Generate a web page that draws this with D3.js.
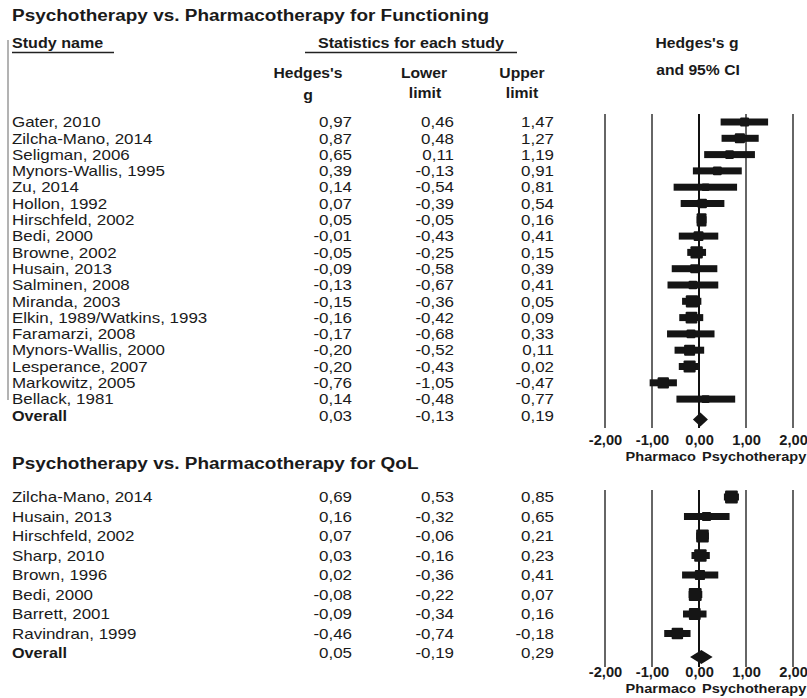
<!DOCTYPE html>
<html>
<head>
<meta charset="utf-8">
<script src="https://cdn.jsdelivr.net/npm/d3@7"></script>
<style>
  body { margin: 0; background: #fff; }
  text { font-family: "Liberation Sans", Arial, sans-serif; fill: #1a1a1a; }
</style>
</head>
<body>
<div id="vis-forest"></div>
<script>
// study rows, functioning
const funcStudies = ["Gater, 2010", "Zilcha-Mano, 2014", "Seligman, 2006", "Mynors-Wallis, 1995", "Zu, 2014",
    "Hollon, 1992", "Hirschfeld, 2002", "Bedi, 2000", "Browne, 2002", "Husain, 2013", "Salminen, 2008",
    "Miranda, 2003", "Elkin, 1989/Watkins, 1993", "Faramarzi, 2008", "Mynors-Wallis, 2000",
    "Lesperance, 2007", "Markowitz, 2005", "Bellack, 1981"]
const funcG = [0.97, 0.87, 0.65, 0.39, 0.14, 0.07, 0.05, -0.01, -0.05, -0.09, -0.13, -0.15, -0.16, -0.17, -0.20, -0.20, -0.76, 0.14]
const funcLower = [0.46, 0.48, 0.11, -0.13, -0.54, -0.39, -0.05, -0.43, -0.25, -0.58, -0.67, -0.36, -0.42, -0.68, -0.52, -0.43, -1.05, -0.48]
const funcUpper = [1.47, 1.27, 1.19, 0.91, 0.81, 0.54, 0.16, 0.41, 0.15, 0.39, 0.41, 0.05, 0.09, 0.33, 0.11, 0.02, -0.47, 0.77]
const funcOverall = [0.03, -0.13, 0.19]

// study rows, quality of life
const qolStudies = ["Zilcha-Mano, 2014", "Husain, 2013", "Hirschfeld, 2002", "Sharp, 2010", "Brown, 1996",
    "Bedi, 2000", "Barrett, 2001", "Ravindran, 1999"]
const qolG = [0.69, 0.16, 0.07, 0.03, 0.02, -0.08, -0.09, -0.46]
const qolLower = [0.53, -0.32, -0.06, -0.16, -0.36, -0.22, -0.34, -0.74]
const qolUpper = [0.85, 0.65, 0.21, 0.23, 0.41, 0.07, 0.16, -0.18]
const qolOverall = [0.05, -0.19, 0.29]

const tickValues = [-2, -1, 0, 1, 2]
const leftLabel = "Pharmaco"
const rightLabel = "Psychotherapy";

(function() {
    const width = 807
    const height = 698
    const SX = 1.13 // the original text is a bit wide

    const svg = d3.select("#vis-forest")
        .append("svg")
        .attr("width", width)
        .attr("height", height)

    const locale = d3.formatLocale({decimal: ",", thousands: ".", grouping: [3], currency: ["", ""], minus: "-"})
    const fmt = locale.format(".2f")

    const x = d3.scaleLinear().domain([-2, 2]).range([605, 793])

    // box size from random effects weight
    const tau2 = 0.05
    const weight = (lo, hi) => { const se = (hi - lo) / 3.92; return 1 / (se * se + tau2) }
    const boxSize = d3.scaleSqrt().domain([0, 20]).range([0, 13.6])

    // stretched text helper
    function label(s, px, py, opt) {
        opt = opt || {}
        return svg.append("text")
            .attr("transform", `translate(${px},${py}) scale(${opt.sx || SX},1)`)
            .attr("dy", "0.35em")
            .attr("text-anchor", opt.anchor || "start")
            .style("font-size", (opt.size || 15) + "px")
            .style("font-weight", opt.bold ? "bold" : "normal")
            .text(s)
    }

    // left gray frame line
    svg.append("line")
        .attr("x1", 8).attr("x2", 8).attr("y1", 40).attr("y2", 400)
        .attr("stroke", "#9a9a9a").attr("stroke-width", 1.5)

    // headers
    label("Psychotherapy vs. Pharmacotherapy for Functioning", 12, 15, {bold: true, size: 17, sx: 1.115})
    label("Study name", 12, 43, {bold: true, size: 14, sx: 1.15})
    svg.append("line").attr("x1", 12).attr("x2", 114).attr("y1", 52.5).attr("y2", 52.5)
        .attr("stroke", "#222").attr("stroke-width", 1.5)
    label("Statistics for each study", 411, 43, {bold: true, size: 14, anchor: "middle", sx: 1.15})
    svg.append("line").attr("x1", 305).attr("x2", 517).attr("y1", 52.5).attr("y2", 52.5)
        .attr("stroke", "#222").attr("stroke-width", 1.5)
    label("Hedges's", 308, 73, {bold: true, size: 14, anchor: "middle", sx: 1.12})
    label("g", 308, 95, {bold: true, size: 14, anchor: "middle"})
    label("Lower", 424, 73, {bold: true, size: 14, anchor: "middle", sx: 1.12})
    label("limit", 425, 93, {bold: true, size: 14, anchor: "middle"})
    label("Upper", 522, 73, {bold: true, size: 14, anchor: "middle", sx: 1.12})
    label("limit", 522, 93, {bold: true, size: 14, anchor: "middle"})
    label("Hedges's g", 697, 43, {bold: true, size: 14, anchor: "middle", sx: 1.12})
    label("and 95% CI", 698, 70, {bold: true, size: 14, anchor: "middle", sx: 1.12})

    function panel(names, g, lower, upper, overall, opt) {
        const rows = names.map((n, i) => ({name: n, g: g[i], lo: lower[i], hi: upper[i]}))
        const y = d3.scaleLinear().domain([0, rows.length]).range([opt.y0, opt.y0 + opt.step * rows.length])

        if (opt.title) label(opt.title, 12, opt.titleY, {bold: true, size: 17, sx: 1.115})

        // text columns
        rows.concat([{name: "Overall", g: overall[0], lo: overall[1], hi: overall[2], total: true}])
            .forEach((d, i) => {
                label(d.name, 12, y(i), {bold: !!d.total, size: 15, sx: d.total ? 1.08 : SX})
                label(fmt(d.g), 352, y(i), {anchor: "end"})
                label(fmt(d.lo), 454, y(i), {anchor: "end"})
                label(fmt(d.hi), 554, y(i), {anchor: "end"})
            })

        // grid lines
        svg.append("g").selectAll("line")
            .data(tickValues)
            .join("line")
            .attr("x1", d => x(d)).attr("x2", d => x(d))
            .attr("y1", opt.lineTop).attr("y2", opt.lineBottom)
            .attr("stroke", d => d === 0 ? "#111" : "#666")
            .attr("stroke-width", 2)

        // confidence intervals
        svg.append("g").selectAll("rect")
            .data(rows)
            .join("rect")
            .attr("x", d => x(d.lo))
            .attr("width", d => x(d.hi) - x(d.lo))
            .attr("y", (d, i) => y(i) - 3.5)
            .attr("height", 7)
            .attr("fill", "#151515")

        // boxes, clipped to the interval
        svg.append("g").selectAll("rect")
            .data(rows)
            .join("rect")
            .attr("x", d => Math.max(x(d.g) - boxSize(weight(d.lo, d.hi)) / 2, x(d.lo)))
            .attr("width", d => {
                const s = boxSize(weight(d.lo, d.hi))
                return Math.min(x(d.g) + s / 2, x(d.hi)) - Math.max(x(d.g) - s / 2, x(d.lo))
            })
            .attr("y", (d, i) => y(i) - boxSize(weight(d.lo, d.hi)) / 2)
            .attr("height", d => boxSize(weight(d.lo, d.hi)))
            .attr("rx", 1)
            .attr("fill", "#151515")

        // overall diamond
        const yo = y(rows.length) + opt.diamondShift
        svg.append("path")
            .attr("d", `M${x(overall[1])},${yo}L${x(overall[0])},${yo - 7}L${x(overall[2])},${yo}L${x(overall[0])},${yo + 7}Z`)
            .attr("fill", "#151515")

        // axis labels
        const axis = svg.append("g")
            .attr("transform", `translate(0,${opt.tickY})`)
            .call(d3.axisBottom(x).tickValues(tickValues).tickFormat(fmt).tickSize(0).tickPadding(0))
        axis.select(".domain").remove()
        axis.selectAll("text")
            .attr("dy", "0.35em")
            .style("font-size", "14px")
            .style("font-weight", "bold")
            .style("font-family", "'Liberation Sans', Arial, sans-serif")
            .attr("fill", "#1a1a1a")
            .attr("transform", "scale(1.05,1)")

        label(leftLabel, x(0) - 3, opt.tickY + 16, {bold: true, size: 13, anchor: "end", sx: 1.12})
        label(rightLabel, x(0) + 3, opt.tickY + 16, {bold: true, size: 13, sx: 1.12})
    }

    panel(funcStudies, funcG, funcLower, funcUpper, funcOverall,
        {y0: 122, step: 16.3, lineTop: 114, lineBottom: 428, tickY: 440, diamondShift: 4})

    panel(qolStudies, qolG, qolLower, qolUpper, qolOverall,
        {title: "Psychotherapy vs. Pharmacotherapy for QoL", titleY: 463,
         y0: 497, step: 19.5, lineTop: 490, lineBottom: 667, tickY: 672, diamondShift: 4})
})();
</script>
</body>
</html>
